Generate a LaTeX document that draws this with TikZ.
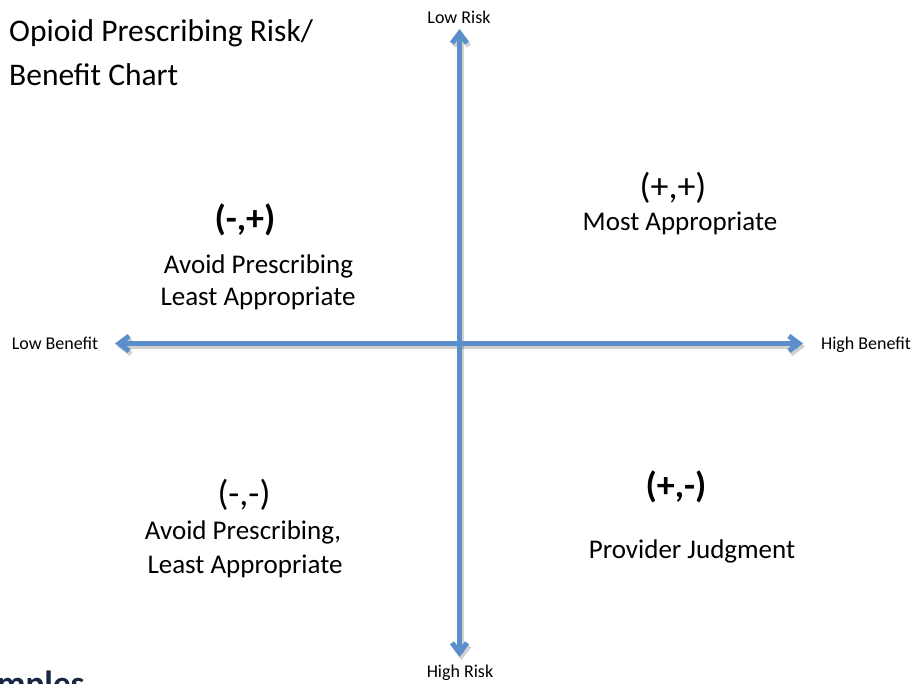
\documentclass[tikz,border=0pt]{standalone}
\usepackage{fontspec}
\setmainfont{Carlito}
\usetikzlibrary{arrows.meta}
\definecolor{axisblue}{RGB}{90,143,203}
\definecolor{navy}{RGB}{23,38,66}
\tikzset{
  axisline/.style={line width=5pt, color=axisblue, arrows={Straight Barb[length=10pt,width=15pt,line width=5pt]-Straight Barb[length=10pt,width=15pt,line width=5pt]}},
  axisshadow/.style={line width=5pt, color=black, opacity=0.18, arrows={Straight Barb[length=10pt,width=15pt,line width=5pt]-Straight Barb[length=10pt,width=15pt,line width=5pt]}},
  smalllbl/.style={inner sep=0pt, anchor=base, font=\fontsize{18}{21}\selectfont},
  bodylbl/.style={inner sep=0pt, anchor=base, font=\fontsize{27}{32}\selectfont},
  signlbl/.style={inner sep=0pt, anchor=base, font=\fontsize{36}{40}\selectfont},
  boldsign/.style={signlbl, font=\fontsize{36}{40}\selectfont\bfseries},
  titlelbl/.style={inner sep=0pt, anchor=base west, font=\fontsize{31.5}{38}\selectfont},
}
\begin{document}
\begin{tikzpicture}[x=1pt,y=-1pt]
\useasboundingbox (0,0) rectangle (915,684);
\clip (0,0) rectangle (915,684);
\fill[white] (0,0) rectangle (915,684);
% axis end points
\coordinate (top) at (459.5,29);
\coordinate (bottom) at (459.5,657);
\coordinate (left) at (115,343.5);
\coordinate (right) at (803,343.5);
\coordinate (topS) at (461.5,32);
\coordinate (bottomS) at (461.5,660);
\coordinate (leftS) at (117,346.5);
\coordinate (rightS) at (805,346.5);
\draw[axisshadow] (leftS) -- (rightS);
\draw[axisshadow] (bottomS) -- (topS);
\draw[axisline] (left) -- (right);
\draw[axisline] (bottom) -- (top);
% title
\node[titlelbl] (t1) at (9,42) {Opioid Prescribing Risk/};
\node[titlelbl] (t2) at (9,86) {Benefit Chart};
% axis labels
\node[smalllbl] (lowrisk) at (459,24) {Low Risk};
\node[smalllbl] (highrisk) at (460,677) {High Risk};
\node[smalllbl] (lowben) at (55,349) {Low Benefit};
\node[smalllbl] (highben) at (866,349) {High Benefit};
% quadrants
\node[signlbl] (pp) at (673,199) {(+,+)};
\node[bodylbl] (pptxt) at (680,231) {Most Appropriate};
\node[boldsign] (mp) at (245,231) {(-,+)};
\node[bodylbl] (mptxt1) at (258.5,274) {Avoid Prescribing};
\node[bodylbl] (mptxt2) at (258,306) {Least Appropriate};
\node[signlbl] (mm) at (244,505) {(-,-)};
\node[bodylbl] (mmtxt1) at (243,539) {Avoid Prescribing,};
\node[bodylbl] (mmtxt2) at (245,573) {Least Appropriate};
\node[boldsign] (pm) at (676,497) {(+,-)};
\node[bodylbl] (pmtxt) at (692,558) {Provider Judgment};
% cut-off text at bottom left
\node[inner sep=0pt, anchor=base west, text=navy, font=\fontsize{35}{40}\selectfont\bfseries] (ex) at (-3,695) {mples};
\end{tikzpicture}
\end{document}
